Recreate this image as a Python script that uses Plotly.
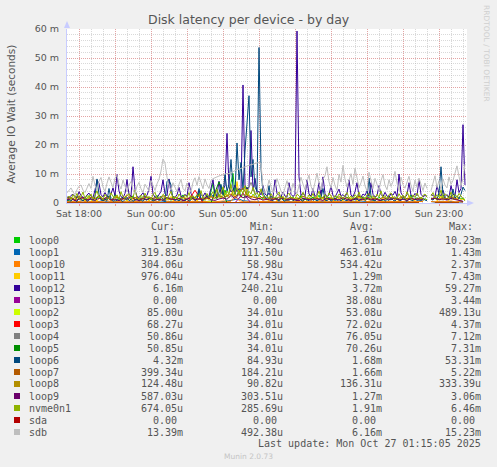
import plotly.graph_objects as go

# ---------------- data (values in milliseconds, 1 ms = "1 m" on the axis) ----------------
SPAN_HOURS = 33.3333          # 400 px * 300 s
x_tick_hours = [1, 4, 7, 10, 13, 16, 19, 22, 25, 28, 31]
x_tick_labels = ["Sat 18:00", "", "Sun 00:00", "", "Sun 05:00", "", "Sun 11:00", "", "Sun 17:00", "", "Sun 23:00"]
y_tick_vals = [0, 10, 20, 30, 40, 50, 60]
y_tick_labels = ["0", "10 m", "20 m", "30 m", "40 m", "50 m", "60 m"]

N = None
sdb = [3.5, 4.5, 5.2, 3.8, 2.9, 4.6, 5.8, 6.2, 4.4, 3.6, 5.1, 6.7, 5.0, 9.2, 6.1, 4.2, 7.5, 8.8, 5.5, 4.0,
       6.8, 9.0, 7.2, 5.3, 8.6, 9.6, 6.4, 4.8, 7.9, 5.6, 3.8, 6.2, 7.4, 4.5, 3.2, 5.8, 7.1, 4.9, 3.6, 6.5,
       5.2, 4.1, 7.8, 5.9, 4.3, 6.6, 8.2, 11.0, 15.2, 13.8, 8.9, 6.0, 4.4, 7.0, 5.3, 3.9, 6.4, 8.1, 5.0, 4.2,
       6.9, 5.4, 3.8, 7.2, 8.7, 6.1, 9.1, 7.0, 4.9, 8.3, 6.2, 5.0, 7.8, 8.4, 8.6, 9.0, 9.3, 9.5, 9.7, 10.0,
       10.2, 10.1, 10.5, 10.9, 11.2, 11.5, 11.7, 12.0, 12.1, 12.4, 12.7, 13.0, 13.2, 13.4, 13.6, 13.8, 14.0, 13.6, 5.2, 3.4,
       4.8, 7.9, 6.0, 3.5, 5.6, 8.4, 6.3, 4.1, 2.8, 5.5, 7.7, 5.0, 3.6, 6.8, 4.4, 3.2, 5.9, 8.9, 6.5, 4.6,
       7.4, 9.6, 5.8, 4.0, 7.1, 10.3, 6.7, 4.5, 8.2, 9.4, 12.5, 7.3, 5.1, 8.8, 6.0, 4.3, 9.9, 7.2, 13.0, 8.1,
       5.5, 7.6, 10.1, 6.4, 12.0, 8.7, 5.2, 7.0, 9.3, 5.9, 4.1, 10.6, 7.8, 5.0, 8.5, 6.2, 4.4, 7.7, 9.8, 6.1,
       4.6, 8.0, 5.7, 7.4, 10.9, 6.8, 4.2, 8.9, 6.3, 5.1, 7.5, 9.2, 6.0, 4.0, 7.9, 5.4, 8.6, 6.6, 4.3, 6.9,
       5.0, N, 4.2, 6.8, 9.4, 5.3, 7.7, 4.5, 8.3, 6.1, 5.2, 9.0, 6.4, 7.8, 10.5, 12.8, 9.1, 6.0, 8.4, 13.4]

loop12 = [2.1, 1.8, 2.6, 3.0, 2.2, 1.9, 3.9, 2.5, 2.0, 1.7, 2.8, 3.4, 2.3, 1.8, 4.5, 7.9, 6.8, 2.9, 2.1, 3.6,
          2.4, 1.9, 3.1, 5.2, 2.6, 9.8, 4.1, 2.2, 1.8, 3.3, 8.1, 3.0, 2.4, 12.5, 4.6, 2.2, 1.9, 2.7, 3.5, 2.0,
          2.6, 4.8, 9.2, 3.1, 2.0, 1.8, 2.9, 4.0, 8.0, 3.2, 2.5, 8.3, 3.6, 2.1, 1.9, 2.8, 5.4, 2.4, 2.0, 3.0,
          2.3, 7.0, 3.3, 2.1, 1.8, 2.6, 4.2, 2.9, 2.2, 3.5, 2.0, 2.4, 5.1, 8.0, 3.0, 2.6, 7.5, 3.2, 4.5, 6.0,
          24.0, 5.5, 3.8, 4.6, 6.2, 3.9, 5.0, 4.4, 40.7, 6.1, 4.8, 5.6, 25.0, 4.2, 8.5, 3.6, 4.0, 2.8, 6.0, 3.1,
          2.5, 3.4, 2.2, 2.0, 8.0, 3.3, 2.6, 2.1, 3.8, 2.4, 2.0, 7.0, 3.0, 2.3, 2.9, 59.3, 9.0, 2.6, 3.5, 2.2,
          8.0, 3.1, 2.4, 5.0, 2.2, 3.0, 7.0, 2.6, 9.0, 3.3, 2.1, 2.8, 6.0, 2.5, 2.0, 3.6, 4.8, 2.3, 2.9, 2.1,
          3.4, 8.0, 2.7, 2.2, 3.9, 7.0, 2.4, 2.0, 3.1, 2.6, 4.2, 2.3, 7.0, 3.0, 2.1, 2.5, 6.0, 2.9, 2.2, 3.7,
          2.4, 2.0, 3.2, 2.7, 4.0, 2.2, 10.0, 3.5, 2.3, 2.0, 2.8, 7.0, 2.6, 2.1, 3.3, 2.5, 8.0, 3.0, 2.2, 2.6,
          2.3, N, 3.0, 2.4, 2.1, 6.0, 3.2, 2.5, 4.4, 2.2, 2.9, 2.0, 6.0, 3.1, 2.4, 8.0, 3.6, 5.0, 27.0, 6.2]

loop6 = [0.8, 1.2, 0.6, 1.5, 0.9, 0.5, 1.8, 1.1, 0.7, 1.4, 0.6, 1.0, 1.6, 0.8, 2.2, 8.3, 3.0, 1.2, 0.7, 1.3,
         0.9, 5.0, 1.4, 0.6, 1.1, 0.8, 1.7, 0.9, 0.5, 1.2, 2.0, 0.8, 1.3, 0.6, 1.0, 1.5, 0.7, 1.1, 0.6, 1.4,
         0.9, 1.8, 1.2, 0.7, 1.0, 1.6, 0.8, 2.4, 1.1, 0.6, 7.5, 8.0, 6.2, 1.3, 0.9, 1.2, 0.7, 1.5, 1.0, 0.8,
         1.3, 0.6, 1.1, 2.0, 0.9, 1.4, 5.0, 1.2, 0.8, 1.7, 2.6, 1.5, 3.2, 2.2, 4.0, 1.8, 3.5, 6.4, 2.8, 10.0,
         4.0, 6.5, 15.0, 5.2, 3.0, 20.7, 8.0, 14.0, 4.5, 18.0, 27.6, 37.0, 9.0, 15.0, 5.5, 4.0, 53.6, 12.0, 3.5, 2.0,
         1.5, 6.0, 1.2, 0.8, 1.6, 1.1, 0.7, 1.9, 1.0, 0.6, 1.3, 0.9, 1.5, 0.8, 1.2, 0.7, 1.8, 1.0, 0.6, 1.4,
         1.1, 0.8, 1.6, 0.9, 1.3, 0.7, 1.2, 1.9, 5.0, 1.0, 0.8, 1.4, 0.6, 1.1, 1.7, 0.9, 1.2, 0.7, 1.5, 1.0,
         0.8, 1.3, 0.6, 1.8, 1.0, 1.4, 0.7, 1.2, 2.1, 0.9, 1.5, 8.6, 2.4, 1.1, 0.7, 1.6, 1.0, 0.8, 1.3, 0.6,
         1.2, 0.9, 1.7, 1.0, 0.7, 1.4, 1.1, 0.8, 1.9, 1.2, 0.6, 1.3, 1.0, 0.8, 1.5, 0.9, 1.1, 0.7, 1.6, 1.0,
         0.8, N, 1.4, 1.0, 2.0, 1.2, 3.5, 12.5, 3.0, 1.5, 1.1, 2.2, 1.3, 4.8, 1.7, 2.5, 1.4, 3.0, 5.5, 4.3]

nvme0n1 = [1.6, 2.4, 1.2, 2.9, 1.8, 3.3, 1.5, 2.2, 3.8, 1.4, 2.6, 1.9, 3.1, 1.3, 2.7, 4.2, 1.8, 2.3, 1.1, 3.0,
           2.0, 1.4, 3.5, 2.2, 1.7, 2.8, 1.3, 3.9, 2.1, 1.6, 2.5, 3.2, 1.5, 2.0, 4.4, 1.9, 1.2, 2.7, 1.8, 3.4,
           1.6, 2.3, 1.1, 2.9, 3.7, 1.5, 2.1, 1.8, 3.0, 2.4, 1.3, 2.6, 4.0, 1.7, 2.2, 1.4, 3.1, 2.0, 1.6, 2.8,
           1.9, 3.6, 1.4, 2.5, 1.7, 2.9, 2.1, 4.3, 1.5, 2.2, 3.3, 1.8, 2.6, 3.9, 2.4, 4.8, 2.0, 3.5, 5.6, 2.7,
           4.1, 3.0, 6.4, 2.5, 3.8, 5.2, 2.9, 4.6, 3.3, 6.0, 2.6, 4.0, 3.1, 5.4, 2.8, 3.6, 2.2, 4.9, 2.4, 1.9,
           2.6, 1.5, 3.2, 2.0, 1.7, 2.9, 3.8, 1.6, 2.3, 1.3, 2.7, 3.4, 1.8, 2.1, 1.4, 3.0, 2.5, 1.6, 3.7, 2.2,
           1.5, 2.8, 1.9, 3.3, 1.4, 2.4, 4.1, 1.7, 2.0, 2.9, 1.6, 3.5, 2.3, 1.3, 2.6, 1.8, 3.1, 2.2, 1.5, 2.7,
           3.6, 1.7, 2.4, 1.4, 2.9, 2.0, 3.8, 1.6, 2.3, 1.2, 2.8, 3.3, 1.9, 2.5, 1.5, 3.0, 2.1, 4.2, 1.8, 2.6,
           1.4, 2.9, 3.5, 1.7, 2.2, 1.5, 3.2, 2.0, 2.7, 1.6, 3.9, 2.3, 1.5, 2.8, 1.9, 3.4, 2.1, 1.4, 2.6, 3.1,
           2.0, N, 2.4, 3.6, 1.7, 2.9, 2.1, 4.5, 1.8, 3.2, 2.5, 1.6, 3.8, 2.2, 2.9, 1.9, 3.3, 2.4, 1.5, 0.7]

loop0 = [1.2, 0.8, 1.9, 1.4, 0.9, 2.3, 1.1, 1.6, 0.7, 2.0, 1.3, 2.6, 1.0, 1.5, 0.8, 1.8, 2.2, 1.1, 1.4, 0.9,
         1.7, 2.4, 1.0, 1.3, 3.1, 1.5, 0.9, 1.8, 1.2, 2.1, 0.8, 1.6, 1.3, 2.5, 1.0, 1.4, 0.7, 1.9, 1.2, 1.6,
         2.2, 0.9, 1.5, 1.1, 1.8, 2.7, 1.0, 1.4, 0.8, 2.0, 1.3, 1.7, 0.9, 2.3, 1.2, 1.5, 1.0, 1.9, 2.8, 1.1,
         1.4, 0.8, 1.7, 2.1, 1.0, 1.6, 3.4, 1.2, 1.8, 0.9, 2.5, 1.3, 4.2, 6.8, 2.0, 1.5, 3.0, 1.8, 2.6, 4.5,
         2.2, 3.6, 7.0, 10.2, 3.2, 2.4, 4.8, 1.9, 3.3, 2.0, 5.5, 2.6, 1.8, 3.0, 2.2, 1.5, 2.8, 1.9, 1.3, 1.7,
         1.1, 1.6, 0.9, 2.0, 1.3, 1.8, 1.0, 2.4, 1.2, 1.5, 0.8, 1.9, 1.4, 2.2, 1.0, 1.6, 1.2, 2.6, 1.1, 1.4,
         0.9, 1.8, 1.3, 2.1, 1.0, 1.5, 2.7, 1.2, 1.7, 0.8, 1.4, 2.0, 1.1, 1.6, 0.9, 2.3, 1.3, 1.8, 1.0, 1.5,
         2.1, 1.2, 1.6, 0.9, 1.9, 1.3, 2.5, 1.0, 1.4, 1.8, 1.1, 2.2, 1.5, 0.8, 1.7, 1.2, 2.0, 1.4, 0.9, 1.6,
         1.3, 2.4, 1.0, 1.7, 1.2, 1.9, 0.8, 1.5, 2.2, 1.1, 1.6, 1.3, 2.8, 1.0, 1.4, 1.8, 1.2, 2.0, 0.9, 1.5,
         1.1, N, 1.7, 1.3, 2.1, 1.0, 1.6, 2.6, 1.2, 1.9, 1.4, 1.0, 2.3, 1.5, 1.8, 1.1, 2.0, 1.4, 1.6, 1.15]

loop11 = [0.9, 1.5, 0.6, 1.2, 2.0, 0.8, 1.4, 1.0, 1.8, 0.7, 1.3, 2.4, 0.9, 1.1, 1.6, 0.6, 1.2, 2.1, 0.8, 1.4,
          1.0, 1.7, 0.7, 1.3, 0.9, 2.6, 1.1, 0.8, 1.5, 1.2, 0.6, 1.9, 1.0, 1.4, 0.8, 2.2, 1.1, 0.7, 1.6, 1.0,
          1.3, 0.8, 2.0, 1.1, 0.6, 1.5, 1.2, 0.9, 1.8, 0.7, 1.4, 1.0, 2.3, 0.8, 1.2, 1.6, 0.9, 1.3, 0.7, 1.9,
          1.1, 0.8, 1.4, 1.0, 2.1, 0.7, 1.3, 1.6, 0.9, 1.2, 1.8, 1.0, 2.5, 1.4, 3.2, 1.7, 2.2, 1.5, 4.0, 2.0,
          3.1, 1.8, 2.6, 4.6, 2.3, 7.4, 2.9, 1.9, 3.5, 2.4, 5.0, 2.1, 1.6, 2.8, 1.9, 1.4, 2.2, 1.3, 1.0, 1.6,
          1.2, 0.8, 1.5, 1.0, 1.9, 0.7, 1.3, 1.1, 2.2, 0.9, 1.4, 1.0, 1.7, 0.8, 1.2, 2.0, 1.0, 1.5, 0.7, 1.3,
          1.0, 1.8, 0.8, 1.3, 1.1, 2.4, 0.9, 1.2, 1.6, 0.7, 1.4, 1.0, 2.1, 0.8, 1.3, 1.0, 1.7, 1.1, 0.8, 1.5,
          1.2, 0.9, 1.9, 1.0, 1.4, 0.7, 2.3, 1.1, 1.3, 0.8, 1.6, 1.0, 1.2, 2.0, 0.9, 1.4, 1.1, 0.7, 1.8, 1.0,
          1.3, 0.9, 1.5, 2.2, 1.0, 1.2, 0.8, 1.7, 1.1, 1.4, 0.9, 2.6, 1.0, 1.3, 0.8, 1.5, 1.2, 1.9, 1.0, 1.3,
          0.9, N, 1.4, 1.1, 1.8, 0.8, 1.3, 2.4, 1.0, 1.6, 1.2, 0.9, 2.0, 1.1, 1.5, 1.3, 2.2, 1.0, 1.4, 0.98]

loop7 = [1.4, 1.9, 1.2, 2.3, 1.6, 1.1, 2.0, 1.5, 2.6, 1.3, 1.8, 1.0, 2.2, 1.6, 1.2, 2.9, 1.5, 1.9, 1.3, 1.7,
         2.1, 1.4, 1.8, 1.2, 2.5, 1.6, 1.1, 2.0, 1.5, 1.9, 1.3, 2.4, 1.7, 1.2, 1.8, 1.4, 2.2, 1.6, 2.7, 1.9,
         2.4, 3.1, 2.0, 3.8, 5.2, 2.6, 2.2, 1.8, 1.5, 2.0, 1.3, 1.7, 1.2, 2.1, 1.6, 1.4, 1.9, 1.1, 1.5, 2.3,
         1.6, 1.2, 1.8, 1.4, 2.0, 1.3, 1.7, 1.1, 2.2, 1.5, 1.8, 1.2, 1.6, 2.4, 1.4, 1.9, 1.3, 1.7, 1.2, 2.0,
         1.5, 1.9, 1.3, 1.6, 2.1, 1.4, 1.8, 1.2, 1.7, 1.5, N, 1.4, 2.0, 1.3, 1.8, 1.5, 2.2, 1.6, 1.1, 0.4]

loop9 = [1.1, 1.5, 0.8, 1.3, 1.9, 1.0, 1.4, 0.9, 1.7, 1.2, 2.1, 1.0, 1.4, 0.8, 1.6, 1.3, 2.4, 1.1, 0.9, 1.5,
         1.2, 1.8, 1.0, 1.3, 0.9, 2.0, 1.4, 1.1, 1.6, 0.8, 1.3, 1.9, 1.0, 1.5, 1.2, 2.2, 1.1, 0.9, 1.4, 1.7,
         1.3, 2.6, 1.5, 3.0, 1.8, 2.3, 1.4, 1.1, 1.6, 1.0, 1.3, 0.9, 1.5, 1.2, 1.8, 1.0, 1.4, 1.1, 0.8, 1.6,
         1.2, 1.0, 1.5, 1.3, 0.9, 1.7, 1.1, 1.4, 1.0, 1.9, 1.2, 0.8, 1.5, 1.3, 1.1, 1.6, 1.0, 1.4, 0.9, 1.2,
         1.5, 1.1, 1.8, 1.0, 1.3, 0.9, 1.6, 1.2, 1.4, 1.0, N, 1.3, 1.7, 1.1, 1.4, 1.0, 1.6, 1.2, 0.9, 0.59]

loop1 = [0.4, 0.6, 0.3, 0.5, 0.8, 0.4, 0.3, 0.6, 0.5, 0.9, 0.4, 0.3, 0.5, 0.7, 0.4, 0.3, 0.6, 0.4, 0.5, 0.3,
         0.5, 0.4, 0.7, 0.3, 0.4, 0.6, 0.5, 0.3, 0.8, 0.4, 0.5, 0.3, 0.6, 0.4, 0.3, 0.5, 0.7, 0.4, 0.3, 0.5,
         0.6, 0.9, 1.2, 1.4, 0.8, 0.6, 0.5, 0.4, 0.3, 0.5, 0.4, 0.6, 0.3, 0.4, 0.5, 0.7, 0.4, 0.3, 0.5, 0.4,
         0.3, 0.5, 0.4, 0.6, 0.4, 0.3, 0.5, 0.8, 0.4, 0.3, 0.5, 0.4, 0.6, 0.3, 0.4, 0.5, 0.4, 0.7, 0.3, 0.4,
         0.5, 0.4, 0.3, 0.6, 0.4, 0.5, 0.3, 0.4, 0.7, 0.4, N, 0.5, 0.3, 0.4, 0.6, 0.4, 0.5, 0.3, 0.4, 0.32]

loop10 = [0.5, 0.4, 0.6, 0.5, 0.7, 0.4, 0.5, 0.6, 0.4, 0.5, 0.8, 0.5, 0.4, 0.6, 0.5, 0.4, 0.7, 0.5, 0.6, 0.4,
          0.5, 0.6, 0.4, 0.5, 1.6, 0.5, 0.4, 0.6, 0.5, 0.7, 0.4, 0.5, 0.6, 0.4, 0.5, 0.5, 0.6, 0.4, 0.5, 0.7,
          0.5, 0.6, 2.4, 0.8, 0.5, 0.4, 0.6, 0.5, 0.4, 0.5, 0.6, 0.5, 0.4, 0.7, 0.5, 0.6, 0.4, 0.5, 0.5, 0.6,
          0.4, 0.5, 0.6, 0.5, 0.7, 0.4, 0.5, 0.6, 0.5, 0.4, 0.5, 0.6, 0.4, 0.5, 1.2, 0.5, 0.6, 0.4, 0.5, 0.5,
          0.6, 0.4, 0.5, 0.6, 0.5, 0.7, 0.4, 0.5, 0.6, 0.5, N, 0.5, 0.4, 0.6, 0.5, 0.5, 0.7, 0.4, 0.5, 0.3]

loop13 = [0.0] * 22 + [3.4] + [0.0] * 22 + [N] + [0.0] * 4
loop2 = [0.05, 0.06, 0.04, 0.05, 0.08, 0.05, 0.04, 0.06, 0.05, 0.05, 0.04, 0.07, 0.05, 0.06, 0.05, 0.04,
         0.05, 0.06, 0.5, 0.05, 0.04, 0.06, 0.05, 0.05, 0.07, 0.04, 0.05, 0.06, 0.05, 0.04, 0.05, 0.06,
         0.05, 0.05, 0.04, 0.06, 0.05, 0.07, 0.05, 0.04, 0.05, 0.06, 0.05, 0.04, 0.05, N, 0.05, 0.06, 0.05, 0.09]
loop3 = [0.05] * 16 + [4.4] + [0.05] * 28 + [N] + [0.05] * 4
loop4 = [0.05] * 23 + [7.1] + [0.05] * 21 + [N] + [0.05] * 4
loop5 = [0.05] * 19 + [7.3] + [0.05] * 25 + [N] + [0.05] * 4
loop8 = [0.12, 0.15, 0.1, 0.13, 0.18, 0.12, 0.1, 0.14, 0.33, 0.12, 0.11, 0.15, 0.13, 0.1, 0.12, 0.16,
         0.14, 0.11, 0.13, 0.2, 0.15, 0.12, 0.25, 0.14, 0.11, 0.13, 0.12, 0.1, 0.15, 0.13, 0.11, 0.14,
         0.12, 0.16, 0.1, 0.13, 0.12, 0.15, 0.11, 0.14, 0.12, 0.1, 0.13, 0.15, 0.12, N, 0.11, 0.14, 0.13, 0.12]
sda = [0.0] * 45 + [N] + [0.0] * 4

# legend table
names = ["loop0", "loop1", "loop10", "loop11", "loop12", "loop13", "loop2", "loop3", "loop4",
         "loop5", "loop6", "loop7", "loop8", "loop9", "nvme0n1", "sda", "sdb"]
colors = ["#00CC00", "#0066B3", "#FF8000", "#FFCC00", "#330099", "#990099", "#CCFF00", "#FF0000", "#808080",
          "#008F00", "#00487D", "#B35A00", "#B38F00", "#6B006B", "#8FB300", "#B30000", "#BEBEBE"]
cur_vals = ["1.15m", "319.83u", "304.06u", "976.04u", "6.16m", "0.00", "85.00u", "68.27u", "50.86u",
            "50.85u", "4.32m", "399.34u", "124.48u", "587.03u", "674.05u", "0.00", "13.39m"]
min_vals = ["197.40u", "111.50u", "58.98u", "174.43u", "240.21u", "0.00", "34.01u", "34.01u", "34.01u",
            "34.01u", "84.93u", "184.21u", "90.82u", "303.51u", "285.69u", "0.00", "492.38u"]
avg_vals = ["1.61m", "463.01u", "534.42u", "1.29m", "3.72m", "38.08u", "53.08u", "72.02u", "76.05u",
            "70.26u", "1.68m", "1.66m", "136.31u", "1.27m", "1.91m", "0.00", "6.16m"]
max_vals = ["10.23m", "1.43m", "2.37m", "7.43m", "59.27m", "3.44m", "489.13u", "4.37m", "7.12m",
            "7.31m", "53.31m", "5.22m", "333.39u", "3.06m", "6.46m", "0.00", "15.23m"]
series = [loop0, loop1, loop10, loop11, loop12, loop13, loop2, loop3, loop4,
          loop5, loop6, loop7, loop8, loop9, nvme0n1, sda, sdb]

TITLE = "Disk latency per device - by day"
Y_TITLE = "Average IO Wait (seconds)"
LAST_UPDATE = "Last update: Mon Oct 27 01:15:05 2025"

# ---------------- layout helpers ----------------
W, H = 497, 467
PL, PR, PT, PB = 67, 467, 29, 203   # plot box in pixels
TXT = "#555555"
MONO = "DejaVu Sans Mono"
SANS = "DejaVu Sans"


def fx(px):
    return (px - PL) / (PR - PL)


def fy(py):
    return (PB - py) / (PB - PT)


def times(n):
    step = SPAN_HOURS / n
    return [i * step for i in range(n)]


fig = go.Figure()
for name, col, vals in zip(names, colors, series):
    fig.add_trace(go.Scatter(x=times(len(vals)), y=vals, mode="lines", name=name,
                             line=dict(color=col, width=1), connectgaps=False,
                             hoverinfo="skip", showlegend=False))

annotations = []
shapes = []

# title
annotations.append(dict(text=TITLE, x=fx(248.5), y=fy(19.5), xref="paper", yref="paper",
                        showarrow=False, xanchor="center", yanchor="middle",
                        font=dict(family=SANS, size=12.5, color=TXT)))
# y title
annotations.append(dict(text=Y_TITLE, x=fx(10.5), y=fy(114), xref="paper", yref="paper",
                        showarrow=False, textangle=-90, xanchor="center", yanchor="middle",
                        font=dict(family=SANS, size=10.5, color=TXT)))
# side credit
annotations.append(dict(text="RRDTOOL / TOBI OETIKER", x=fx(487), y=fy(53), xref="paper", yref="paper",
                        showarrow=False, textangle=90, xanchor="center", yanchor="middle",
                        font=dict(family=SANS, size=7.5, color="#cfcfcf")))

# legend header
for label, left in zip(["Cur:", "Min:", "Avg:", "Max:"], [148.7, 248.3, 347.7, 446.7]):
    annotations.append(dict(text=label, x=fx(left), y=fy(226.8), xref="paper", yref="paper",
                            showarrow=False, xanchor="left", yanchor="middle",
                            font=dict(family=MONO, size=10, color=TXT)))


def cell(v):
    return v if v[-1].isalpha() else v + "\u00a0"


for i, (name, col) in enumerate(zip(names, colors)):
    cy = 240 + 12 * i
    shapes.append(dict(type="rect", xref="paper", yref="paper",
                       x0=fx(14), x1=fx(20), y0=fy(cy - 3), y1=fy(cy + 3),
                       fillcolor=col, line=dict(width=0)))
    annotations.append(dict(text=name, x=fx(26.5), y=fy(cy), xref="paper", yref="paper",
                            showarrow=False, xanchor="left", yanchor="middle",
                            font=dict(family=MONO, size=10, color=TXT)))
    for vals, right in zip([cur_vals, min_vals, avg_vals, max_vals], [185, 285, 384, 482.7]):
        annotations.append(dict(text=cell(vals[i]), x=fx(right), y=fy(cy), xref="paper", yref="paper",
                                showarrow=False, xanchor="right", yanchor="middle",
                                font=dict(family=MONO, size=10, color=TXT)))

annotations.append(dict(text=LAST_UPDATE, x=fx(482.7), y=fy(443), xref="paper", yref="paper",
                        showarrow=False, xanchor="right", yanchor="middle",
                        font=dict(family=MONO, size=10, color=TXT)))
annotations.append(dict(text="Munin 2.0.73", x=fx(248), y=fy(456), xref="paper", yref="paper",
                        showarrow=False, xanchor="center", yanchor="middle",
                        font=dict(family=SANS, size=7.5, color="#c4c4c4")))

# axis arrows
AX = "#c8ccff"
shapes.append(dict(type="path", xref="paper", yref="paper",
                   path=f"M {fx(64)},{fy(28)} L {fx(67)},{fy(21)} L {fx(70)},{fy(28)} Z",
                   fillcolor=AX, line=dict(width=0)))
shapes.append(dict(type="path", xref="paper", yref="paper",
                   path=f"M {fx(467)},{fy(200)} L {fx(474)},{fy(203)} L {fx(467)},{fy(206)} Z",
                   fillcolor=AX, line=dict(width=0)))

MGRID = "rgba(235,120,120,0.55)"
GRID = "rgba(170,170,170,0.45)"

fig.update_layout(
    width=W, height=H,
    margin=dict(l=PL, r=W - PR, t=PT, b=H - PB, pad=0),
    paper_bgcolor="#F0F0F0", plot_bgcolor="#FFFFFF",
    showlegend=False,
    annotations=annotations, shapes=shapes,
    xaxis=dict(range=[0, SPAN_HOURS], tickmode="array", tickvals=x_tick_hours, ticktext=x_tick_labels,
               showgrid=True, gridcolor=MGRID, griddash="1px,1px", gridwidth=1,
               minor=dict(tickmode="linear", tick0=0, dtick=1, showgrid=True, gridcolor=GRID,
                          griddash="1px,1px", gridwidth=1),
               ticks="outside", ticklen=2, tickcolor="rgba(235,120,120,0.8)",
               showline=True, linecolor=AX, linewidth=1, zeroline=False,
               tickfont=dict(family=SANS, size=9.5, color=TXT), fixedrange=True),
    yaxis=dict(range=[0, 60], tickmode="array", tickvals=y_tick_vals, ticktext=y_tick_labels,
               showgrid=True, gridcolor=MGRID, griddash="1px,1px", gridwidth=1,
               minor=dict(tickmode="linear", tick0=0, dtick=2, showgrid=True, gridcolor=GRID,
                          griddash="1px,1px", gridwidth=1),
               ticks="", showline=True, linecolor=AX, linewidth=1, zeroline=False,
               ticklabelstandoff=5,
               tickfont=dict(family=SANS, size=9.5, color=TXT), fixedrange=True),
)

fig.write_html("out.html", config={"displayModeBar": False},
               post_script="document.body.style.margin='0px';document.body.style.background='#F0F0F0';")
